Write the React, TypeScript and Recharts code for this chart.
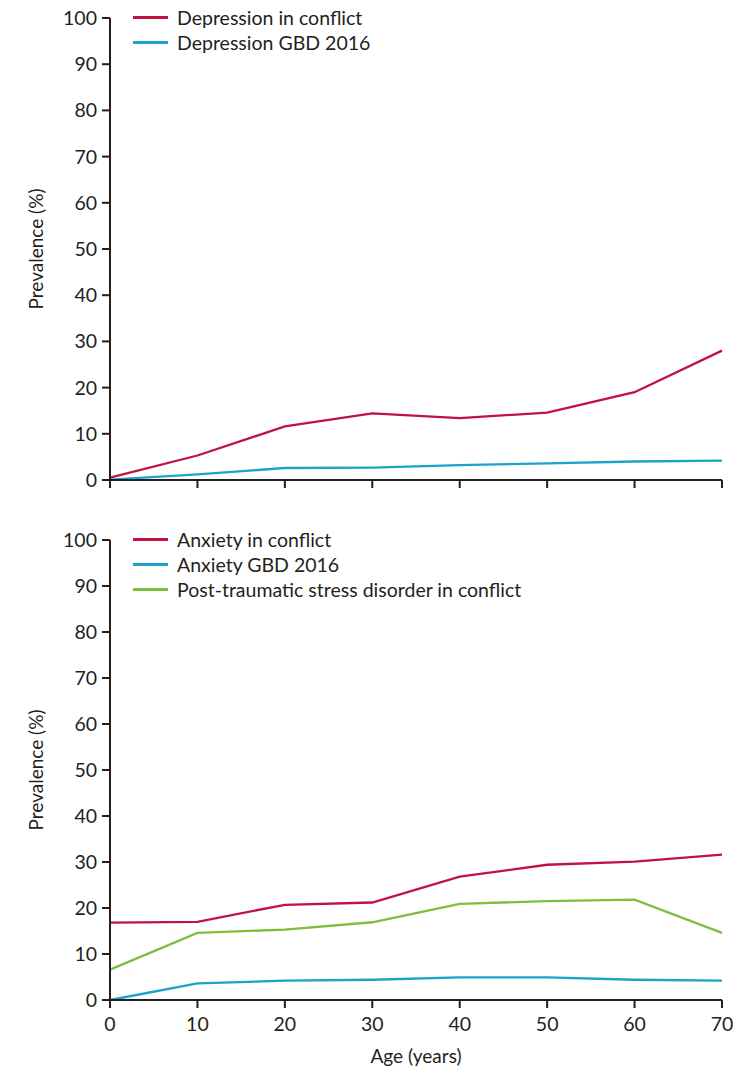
import { LineChart, Line, XAxis, YAxis } from 'recharts';

const ages = [0, 10, 20, 30, 40, 50, 60, 70];
const yTicks = [0, 10, 20, 30, 40, 50, 60, 70, 80, 90, 100];

const depressionConflict = [0.5, 5.3, 11.6, 14.4, 13.4, 14.6, 19.0, 28.0];
const depressionGBD = [0.1, 1.2, 2.6, 2.7, 3.2, 3.6, 4.0, 4.2];

const anxietyConflict = [16.8, 17.0, 20.7, 21.2, 26.8, 29.4, 30.1, 31.6];
const anxietyGBD = [0.0, 3.6, 4.2, 4.4, 4.9, 4.9, 4.4, 4.2];
const ptsdConflict = [6.6, 14.6, 15.3, 16.9, 20.9, 21.5, 21.8, 14.6];

const colors = {
  red: '#c0133f',
  blue: '#1ca3c9',
  green: '#7dbf3c',
  ink: '#231f20',
};

const font = 'Lato, "Open Sans", sans-serif';

const topSeries = [
  { key: 'conflict', name: 'Depression in conflict', color: colors.red },
  { key: 'gbd', name: 'Depression GBD 2016', color: colors.blue },
];

const bottomSeries = [
  { key: 'conflict', name: 'Anxiety in conflict', color: colors.red },
  { key: 'gbd', name: 'Anxiety GBD 2016', color: colors.blue },
  { key: 'ptsd', name: 'Post-traumatic stress disorder in conflict', color: colors.green },
];

const topData = ages.map((age, i) => ({
  age,
  conflict: depressionConflict[i],
  gbd: depressionGBD[i],
}));

const bottomData = ages.map((age, i) => ({
  age,
  conflict: anxietyConflict[i],
  gbd: anxietyGBD[i],
  ptsd: ptsdConflict[i],
}));

const LegendBox = ({ items, top }: { items: typeof bottomSeries; top: number }) => (
  <div style={{ position: 'absolute', left: 133, top }}>
    {items.map((s) => (
      <div key={s.name} style={{ display: 'flex', alignItems: 'center', height: 25 }}>
        <div style={{ width: 35, height: 2.5, background: s.color, marginRight: 9 }} />
        <span style={{ fontFamily: font, fontSize: 19.5, color: colors.ink, whiteSpace: 'nowrap' }}>{s.name}</span>
      </div>
    ))}
  </div>
);

const tickStyle = { fill: colors.ink, fontSize: 19.5, fontFamily: font };
const axisStroke = { stroke: colors.ink, strokeWidth: 2 };

const yLabel = {
  value: 'Prevalence (%)',
  angle: -90,
  position: 'insideLeft' as const,
  offset: 36,
  style: { textAnchor: 'middle' as const, fill: colors.ink, fontSize: 19, fontFamily: font },
};

const App = () => {
  return (
    <div style={{ position: 'absolute', left: 0, top: 0, width: 745, height: 1071, background: '#fff' }}>
      {/* Top panel - depression */}
      <div style={{ position: 'absolute', left: 0, top: 0 }}>
        <LineChart width={745} height={500} data={topData} margin={{ top: 18, right: 23, left: 0, bottom: 0 }}>
          <XAxis
            dataKey="age"
            type="number"
            domain={[0, 70]}
            ticks={ages}
            height={20}
            tickSize={8}
            tickFormatter={() => ''}
            axisLine={axisStroke}
            tickLine={axisStroke}
          />
          <YAxis
            type="number"
            domain={[0, 100]}
            ticks={yTicks}
            width={110}
            tickSize={8}
            tickMargin={5}
            tick={tickStyle}
            axisLine={axisStroke}
            tickLine={axisStroke}
            label={yLabel}
          />
          {topSeries.map((s) => (
            <Line key={s.key} type="linear" dataKey={s.key} name={s.name} stroke={s.color} strokeWidth={2.3} dot={false} isAnimationActive={false} />
          ))}
        </LineChart>
      </div>
      <LegendBox items={topSeries} top={5} />

      {/* Bottom panel - anxiety and PTSD */}
      <div style={{ position: 'absolute', left: 0, top: 520 }}>
        <LineChart width={745} height={551} data={bottomData} margin={{ top: 20, right: 23, left: 0, bottom: 0 }}>
          <XAxis
            dataKey="age"
            type="number"
            domain={[0, 70]}
            ticks={ages}
            height={71}
            tickSize={8}
            tickMargin={9}
            tick={tickStyle}
            interval={0}
            axisLine={axisStroke}
            tickLine={axisStroke}
            label={{
              value: 'Age (years)',
              position: 'insideBottom',
              offset: 8,
              style: { fill: colors.ink, fontSize: 19, fontFamily: font },
            }}
          />
          <YAxis
            type="number"
            domain={[0, 100]}
            ticks={yTicks}
            width={110}
            tickSize={8}
            tickMargin={5}
            tick={tickStyle}
            axisLine={axisStroke}
            tickLine={axisStroke}
            label={yLabel}
          />
          {bottomSeries.map((s) => (
            <Line key={s.key} type="linear" dataKey={s.key} name={s.name} stroke={s.color} strokeWidth={2.3} dot={false} isAnimationActive={false} />
          ))}
        </LineChart>
      </div>
      <LegendBox items={bottomSeries} top={527} />
    </div>
  );
};

export default App;
